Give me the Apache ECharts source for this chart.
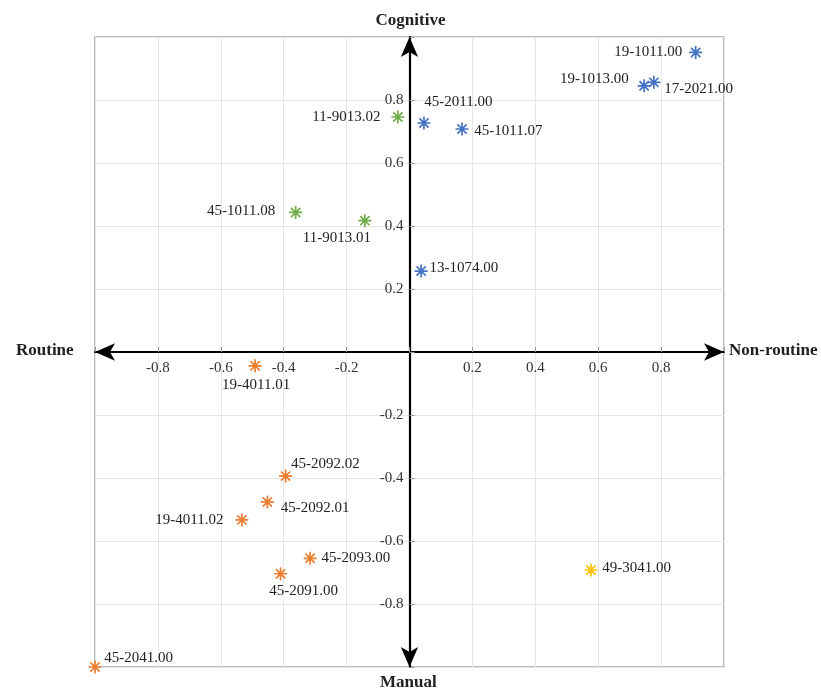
<!DOCTYPE html>
<html>
<head>
<meta charset="utf-8">
<script src="https://cdn.jsdelivr.net/npm/echarts@6/dist/echarts.min.js"></script>
<style>
html,body{margin:0;padding:0;background:#fff;}
#chart{width:821px;height:690px;}
</style>
</head>
<body>
<div id="chart"></div>
<script>
// ---- data ----
const blueNames = ['19-1011.00','19-1013.00','17-2021.00','45-2011.00','45-1011.07','13-1074.00'];
const blueX = [0.910, 0.746, 0.777, 0.046, 0.167, 0.037];
const blueY = [0.951, 0.845, 0.856, 0.727, 0.708, 0.257];

const greenNames = ['11-9013.02','45-1011.08','11-9013.01'];
const greenX = [-0.037, -0.362, -0.142];
const greenY = [0.746, 0.443, 0.417];

const orangeNames = ['19-4011.01','45-2092.02','45-2092.01','19-4011.02','45-2093.00','45-2091.00','45-2041.00'];
const orangeX = [-0.491, -0.394, -0.452, -0.533, -0.316, -0.410, -1.0];
const orangeY = [-0.044, -0.394, -0.476, -0.533, -0.655, -0.704, -1.0];

const yellowNames = ['49-3041.00'];
const yellowX = [0.577];
const yellowY = [-0.692];

const axisNames = {top:'Cognitive', bottom:'Manual', left:'Routine', right:'Non-routine'};

// ---- label placement (layout only) ----
const labelLayout = {
  '19-1011.00': {position:'left', distance:6, offset:[0,0]},
  '19-1013.00': {position:'left', distance:8, offset:[0,-7]},
  '17-2021.00': {position:'right', distance:3, offset:[0,7]},
  '45-2011.00': {position:'right', distance:0, offset:[-7,-21]},
  '45-1011.07': {position:'right', distance:5, offset:[0,2]},
  '13-1074.00': {position:'right', distance:1, offset:[0,-3]},
  '11-9013.02': {position:'left', distance:10, offset:[0,0]},
  '45-1011.08': {position:'left', distance:13, offset:[0,-1]},
  '11-9013.01': {position:'bottom', distance:1, offset:[-28,2]},
  '19-4011.01': {position:'bottom', distance:3, offset:[1,1]},
  '45-2092.02': {position:'right', distance:0, offset:[-2,-12]},
  '45-2092.01': {position:'right', distance:6, offset:[0,6]},
  '19-4011.02': {position:'left', distance:11, offset:[0,0]},
  '45-2093.00': {position:'right', distance:4, offset:[0,0]},
  '45-2091.00': {position:'bottom', distance:2, offset:[23,0]},
  '45-2041.00': {position:'right', distance:0, offset:[2,-9]},
  '49-3041.00': {position:'right', distance:4, offset:[0,-2]}
};

const FONT = '"Liberation Serif", "DejaVu Serif", serif';
const STAR = 'path://M5 0L5 10M0 5L10 5M1.46 1.46L8.54 8.54M1.46 8.54L8.54 1.46';

function buildSeries(names, xs, ys, color) {
  return {
    type: 'scatter',
    symbol: STAR,
    symbolSize: 13,
    itemStyle: {color: 'rgba(0,0,0,0)', borderColor: color, borderWidth: 1.7, opacity: 1},
    z: 5,
    data: names.map((n, i) => {
      const l = labelLayout[n];
      return {
        name: n,
        value: [xs[i], ys[i]],
        label: {
          show: true, formatter: n, position: l.position, distance: l.distance, offset: l.offset,
          color: '#222', fontFamily: FONT, fontSize: 15
        }
      };
    })
  };
}

function tickFmt(v) {
  if (Math.abs(v) < 1e-9 || Math.abs(v) > 0.99) return '';
  return (Math.round(v * 10) / 10).toFixed(1);
}

const chart = echarts.init(document.getElementById('chart'), null, {renderer: 'canvas'});
const gridL = 95, gridT = 37, gridW = 629, gridH = 630;

const axisCommon = {
  type: 'value', min: -1, max: 1, interval: 0.2,
  axisLine: {onZero: false, lineStyle: {color: '#000', width: 2.2}, symbol: ['arrow', 'arrow'], symbolSize: [13, 20]},
  axisTick: {show: true, inside: true, length: 5, lineStyle: {color: '#999', width: 1}},
  splitLine: {show: true, lineStyle: {color: '#e6e6e6', width: 1}},
  axisLabel: {formatter: tickFmt, color: '#333', fontFamily: FONT, fontSize: 15}
};

chart.setOption({
  animation: false,
  backgroundColor: '#fff',
  grid: {left: gridL, top: gridT, width: gridW, height: gridH, show: true, borderColor: '#a6a6a6', borderWidth: 1.5, containLabel: false},
  xAxis: Object.assign({}, axisCommon, {position: 'bottom', offset: -gridH / 2, axisLabel: Object.assign({}, axisCommon.axisLabel, {margin: 9})}),
  yAxis: Object.assign({}, axisCommon, {position: 'left', offset: -gridW / 2, axisLabel: Object.assign({}, axisCommon.axisLabel, {margin: 6})}),
  graphic: [
    {type: 'text', left: 'center', top: 12, style: {text: axisNames.top, font: 'bold 17px ' + FONT, fill: '#222'}},
    {type: 'text', left: 380, top: 674, style: {text: axisNames.bottom, font: 'bold 17px ' + FONT, fill: '#222'}},
    {type: 'text', left: 16, top: 342, style: {text: axisNames.left, font: 'bold 17px ' + FONT, fill: '#222'}},
    {type: 'text', left: 729, top: 342, style: {text: axisNames.right, font: 'bold 17px ' + FONT, fill: '#222'}}
  ],
  series: [
    buildSeries(blueNames, blueX, blueY, '#4472C4'),
    buildSeries(greenNames, greenX, greenY, '#70AD47'),
    buildSeries(orangeNames, orangeX, orangeY, '#ED7D31'),
    buildSeries(yellowNames, yellowX, yellowY, '#FFC000')
  ]
});
</script>
</body>
</html>
